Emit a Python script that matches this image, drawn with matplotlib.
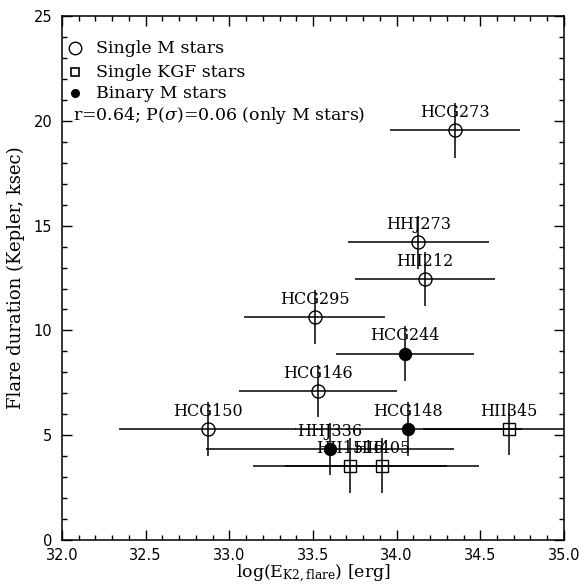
import matplotlib
matplotlib.use('Agg')
import matplotlib.pyplot as plt
from matplotlib.ticker import MultipleLocator

# star data
names = ['HCG273', 'HHJ273', 'HII212', 'HCG295', 'HCG244', 'HCG146',
         'HCG150', 'HCG148', 'HII345', 'HHJ336', 'HII1516', 'HII405']
log_e = [34.35, 34.13, 34.17, 33.51, 34.05, 33.53,
         32.87, 34.07, 34.67, 33.60, 33.72, 33.91]
log_e_err = [0.39, 0.42, 0.42, 0.42, 0.41, 0.47,
             0.53, 0.68, 0.51, 0.74, 0.58, 0.58]
duration = [19.55, 14.2, 12.45, 10.65, 8.9, 7.1,
            5.3, 5.3, 5.3, 4.35, 3.55, 3.55]
duration_err = [1.3, 1.25, 1.27, 1.28, 1.3, 1.25,
                1.3, 1.3, 1.25, 1.25, 1.3, 1.3]
kind = ['M', 'M', 'M', 'M', 'B', 'M', 'M', 'B', 'K', 'B', 'K', 'K']

legend_labels = ['Single M stars', 'Single KGF stars', 'Binary M stars']
corr_text = r'r=0.64; P($\sigma$)=0.06 (only M stars)'

plt.rcParams['font.family'] = 'DejaVu Serif'
plt.rcParams['mathtext.fontset'] = 'dejavuserif'

fig = plt.figure(figsize=(5.85, 5.88), dpi=100)
ax = fig.add_axes([0.106, 0.0816, 0.858, 0.891])

# open symbols let the error bars show through, like the IDL original
styles = {
    'M': dict(marker='o', ms=9.4, mfc='none', mec='black', mew=1.0),
    'K': dict(marker='s', ms=9.0, mfc='none', mec='black', mew=1.0),
    'B': dict(marker='o', ms=8.6, mfc='black', mec='black', mew=1.0),
}

for i in range(len(names)):
    ax.errorbar(log_e[i], duration[i], xerr=log_e_err[i], yerr=duration_err[i],
                fmt='none', ecolor='black', elinewidth=1.1, capsize=0, zorder=2)
for i in range(len(names)):
    ax.plot(log_e[i], duration[i], ls='none', zorder=3, **styles[kind[i]])
    ax.annotate(names[i], (log_e[i], duration[i]), xytext=(0, 6.5),
                textcoords='offset points', ha='center', va='bottom',
                fontsize=11.5, zorder=4)

# legend drawn by hand
leg_y = [0.939, 0.893, 0.853]
leg_styles = [
    dict(marker='o', ms=9.0, mfc='none', mec='black', mew=1.0),
    dict(marker='s', ms=5.5, mfc='none', mec='black', mew=1.2),
    dict(marker='o', ms=5.5, mfc='black', mec='black', mew=1.0),
]
for y, lab, st in zip(leg_y, legend_labels, leg_styles):
    ax.plot([0.026], [y], transform=ax.transAxes, ls='none', clip_on=False, **st)
    ax.text(0.068, y, lab, transform=ax.transAxes, va='center', ha='left',
            fontsize=12.5)
ax.text(0.021, 0.811, corr_text, transform=ax.transAxes, va='center',
        ha='left', fontsize=12.5)

ax.set_xlim(32.0, 35.0)
ax.set_ylim(0, 25)
ax.xaxis.set_major_locator(MultipleLocator(0.5))
ax.xaxis.set_minor_locator(MultipleLocator(0.1))
ax.yaxis.set_major_locator(MultipleLocator(5))
ax.yaxis.set_minor_locator(MultipleLocator(1))
ax.xaxis.set_major_formatter(matplotlib.ticker.FormatStrFormatter('%.1f'))
ax.tick_params(which='both', direction='in', top=True, right=True,
               labelfontfamily='DejaVu Sans', labelsize=10.5)
ax.tick_params(which='major', length=7, width=1.0, pad=7)
ax.tick_params(which='minor', length=3.6, width=1.0)
ax.tick_params(axis='x', which='major', pad=6)
for s in ax.spines.values():
    s.set_linewidth(1.1)

ax.set_xlabel(r'log(E$_{\rm K2,flare}$) [erg]', fontsize=12.5, labelpad=0)
ax.set_ylabel('Flare duration (Kepler, ksec)', fontsize=13, labelpad=6)

fig.savefig('out.png', dpi=100)
